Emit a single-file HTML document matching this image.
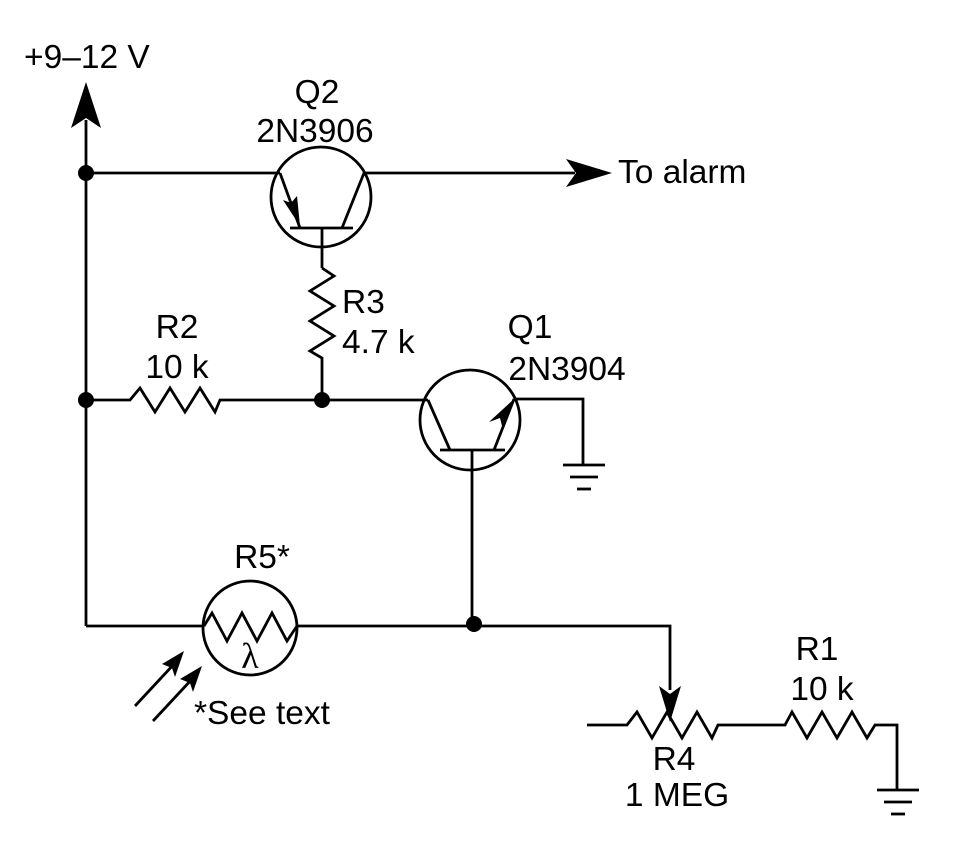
<!DOCTYPE html>
<html><head><style>html,body{margin:0;padding:0;background:#fff}svg{display:block}text{font-family:"Liberation Sans",Arial,sans-serif;font-size:33.5px;fill:#000}</style></head>
<body>
<svg width="970" height="863" viewBox="0 0 970 863" xmlns="http://www.w3.org/2000/svg">
<g stroke="#000" stroke-width="2.8" fill="none" stroke-linejoin="miter">
<line x1="86" y1="120" x2="86" y2="626"/>
<line x1="86" y1="173" x2="280" y2="173"/>
<circle cx="321" cy="197" r="50"/>
<line x1="280" y1="173" x2="300" y2="228"/>
<line x1="290" y1="228" x2="353" y2="228"/>
<line x1="342" y1="228" x2="364" y2="173"/>
<line x1="364" y1="173" x2="575" y2="173"/>
<line x1="322" y1="228" x2="322" y2="268"/>
<polyline points="322,268 334,276 310,291 334,306 310,321 334,336 310,351 322,358 322,400"/>
<polyline points="86,400 130,400 140,388 155,412 170,388 185,412 200,388 215,412 220,400 428,400"/>
<circle cx="470" cy="420" r="50"/>
<line x1="428" y1="400" x2="450" y2="450"/>
<line x1="440" y1="450" x2="505" y2="450"/>
<line x1="494" y1="450" x2="514" y2="399"/>
<polyline points="514,399 583,399 583,465"/>
<line x1="563" y1="465" x2="605" y2="465"/>
<line x1="570" y1="477" x2="598" y2="477"/>
<line x1="577" y1="489" x2="591" y2="489"/>
<line x1="472" y1="450" x2="472" y2="626"/>
<line x1="86" y1="626" x2="204" y2="626"/>
<circle cx="250" cy="628" r="47"/>
<polyline points="204,626 212,613 227,641 242,613 257,641 272,613 287,641 297,626"/>
<polyline points="297,626 670,626 670,690"/>
<line x1="135" y1="706" x2="175" y2="663"/>
<line x1="153" y1="721" x2="193" y2="678"/>
<polyline points="587,725 627,725 637,712 652,738 667,712 682,738 697,712 712,738 718,725 785,725 792,712 807,738 822,712 837,738 852,712 867,738 875,725 897,725 897,790"/>
<line x1="877" y1="790" x2="919" y2="790"/>
<line x1="884" y1="802" x2="912" y2="802"/>
<line x1="891" y1="814" x2="905" y2="814"/>
</g>
<g fill="#000">
<circle cx="86" cy="173" r="8"/>
<circle cx="86" cy="400" r="8"/>
<circle cx="322" cy="400" r="8"/>
<circle cx="474" cy="624" r="8"/>
<polygon points="86,82 71,128 86,118 101,128"/>
<polygon points="612,173 566,159 576,173 566,187"/>
<polygon points="300,226 283,200 291,203 297,196"/>
<polygon points="514,399 503,430 500,418 489,422"/>
<polygon points="670,722 659,686 670,694 681,686"/>
<polygon points="184,651 162,664 172,668 175,677"/>
<polygon points="202,666 180,679 190,683 193,692"/>
</g>
<g text-anchor="middle">
<text x="317" y="103">Q2</text>
<text x="315" y="142">2N3906</text>
<text x="177" y="338">R2</text>
<text x="177" y="378">10 k</text>
<text x="530" y="338">Q1</text>
<text x="567" y="380">2N3904</text>
<text x="262" y="568">R5*</text>
<text x="250" y="668" style="font-family:'Liberation Serif',serif;font-size:36px">λ</text>
<text x="817" y="660">R1</text>
<text x="822" y="700">10 k</text>
<text x="674" y="770">R4</text>
<text x="677" y="806">1 MEG</text>
</g>
<text x="24" y="68">+9–12 V</text>
<text x="618" y="183">To alarm</text>
<text x="342" y="313">R3</text>
<text x="342" y="353">4.7 k</text>
<text x="194" y="724">*See text</text>
</svg>
</body></html>
